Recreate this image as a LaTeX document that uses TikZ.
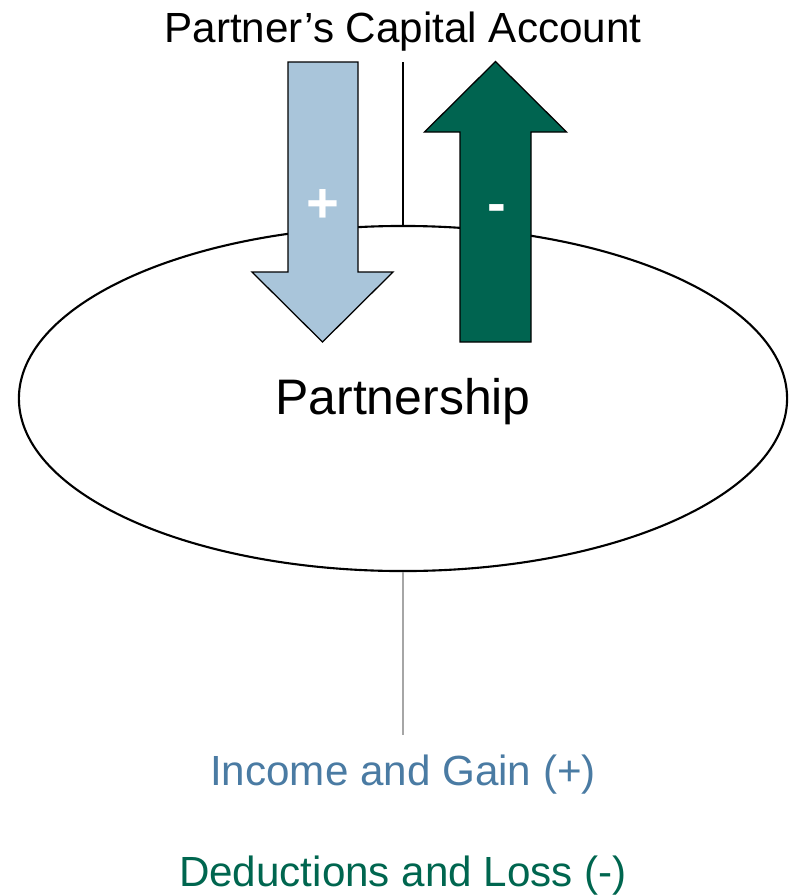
\documentclass[tikz,border=0pt]{standalone}
\usepackage{fontspec}
\setmainfont{Liberation Sans}
\usetikzlibrary{shapes.geometric}
\definecolor{plusblue}{HTML}{A9C5DA}
\definecolor{minusgreen}{HTML}{006450}
\definecolor{incomeblue}{HTML}{4A7BA3}
\definecolor{lossgreen}{HTML}{00664F}
\begin{document}
\begin{tikzpicture}[x=0.025cm, y=-0.025cm,
		bigtext/.style={font=\fontsize{30}{36}\selectfont, inner sep=0pt, anchor=base},
		signtext/.style={font=\fontsize{40}{48}\selectfont\bfseries, text=white, inner sep=0pt, anchor=base},
		flowarrow/.style={draw=black, line width=0.9pt, line join=miter}]
		\useasboundingbox (0,0) rectangle (794,896);
		
		% partnership
		\node[draw, ellipse, line width=1.5pt, minimum width=19.2cm, minimum height=8.625cm, inner sep=0pt] (partnership) at (403,398.5) {};
		\node[font=\fontsize{35.5}{42}\selectfont, inner sep=0pt, anchor=base] (partlabel) at (403,414.5) {Partnership};
		
		% capital account
		\node[bigtext] (capital) at (403,42) {Partner’s Capital Account};
		\coordinate (captop) at (403,62);
		\draw[line width=1.4pt] (partnership.north) -- (captop);
		
		% arrows
		\filldraw[flowarrow, fill=plusblue] 
		(288,62) -- (358,62) -- (358,272) -- (393,272) -- (322.5,342) 
		-- (252,272) -- (288,272) -- cycle;
		\filldraw[flowarrow, fill=minusgreen] 
		(460,342) -- (531,342) -- (531,132) -- (566.5,132) -- (495.5,61.5) 
		-- (424.5,132) -- (460,132) -- cycle;
		\node[signtext] (plus) at (322.5,222) {+};
		\node[signtext] (minus) at (497,222) {-};
		
		% flows
		\coordinate (flowend) at (403,735);
		\draw[line width=1.3pt, black!35] (partnership.south) -- (flowend);
		\node[bigtext, text=incomeblue] (income) at (403,785.5) {Income and Gain (+)};
		\node[bigtext, text=lossgreen] (loss) at (403,886) {Deductions and Loss (-)};
	\end{tikzpicture}
\end{document}
